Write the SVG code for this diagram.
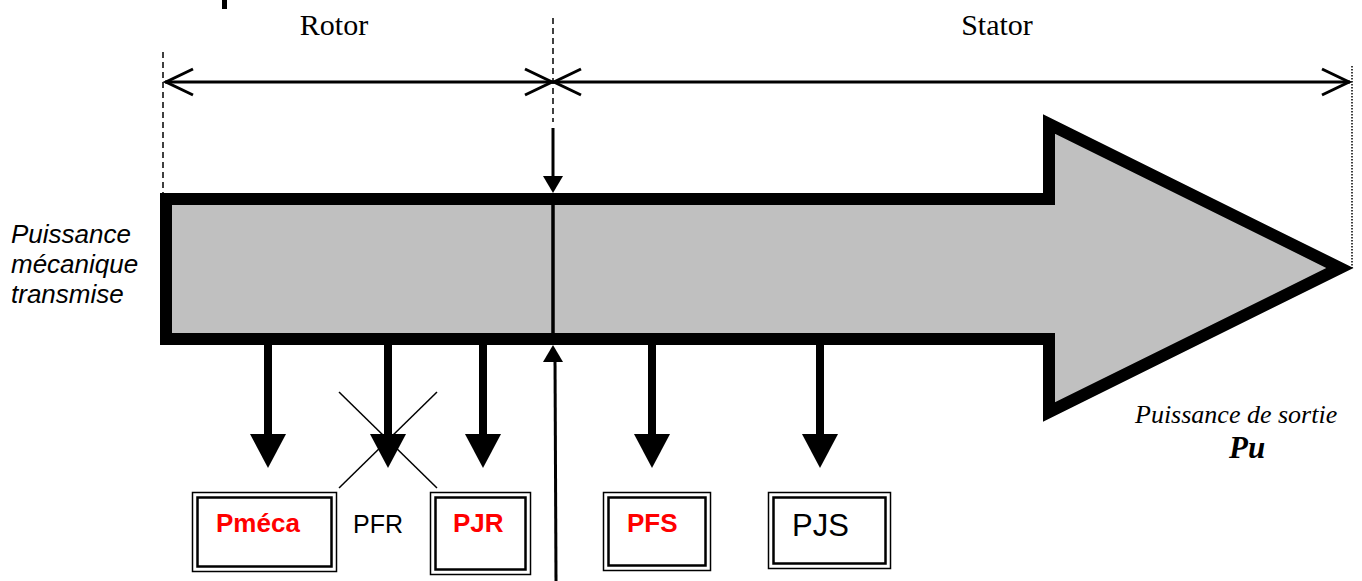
<svg xmlns="http://www.w3.org/2000/svg" width="1362" height="581" viewBox="0 0 1362 581">
<style>
.serif{font-family:"Liberation Serif","Times New Roman",serif;}
.sans{font-family:"Liberation Sans",Arial,sans-serif;}
.box-o{fill:#fff;stroke:#000;stroke-width:1.5;}
.box-i{fill:none;stroke:#000;stroke-width:2.5;}
.loss{stroke:#000;stroke-width:8;fill:none;}
.dim{stroke:#000;stroke-width:3;fill:none;}
.red{fill:#ff0000;font-weight:bold;}
</style>
<defs>
<polygon id="lossHead" points="-18,0 18,0 0,34" fill="#000"/>
</defs>
<rect x="222" y="0" width="5" height="9" fill="#000"/>
<g id="guides">
<line x1="163" y1="52" x2="163" y2="193" stroke="#000" stroke-width="1.5" stroke-dasharray="6,4"/>
<line x1="553" y1="18" x2="553" y2="122" stroke="#000" stroke-width="1.5" stroke-dasharray="6,4"/>
<line x1="1352" y1="66" x2="1352" y2="268" stroke="#000" stroke-width="1.5" stroke-dasharray="1.5,1.5"/>
</g>
<g id="dimension">
<line class="dim" x1="165" y1="82" x2="1350" y2="82"/>
<polyline class="dim" points="193,69 166,82 193,95"/>
<polyline class="dim" points="525,69 552,82 525,95"/>
<polyline class="dim" points="581,69 554,82 581,95"/>
<polyline class="dim" points="1322,69 1349,82 1322,95"/>
<text class="serif" x="334" y="35" font-size="30" text-anchor="middle">Rotor</text>
<text class="serif" x="997" y="35" font-size="30" text-anchor="middle">Stator</text>
</g>
<g id="power-arrow">
<polygon points="166,199 1049,199 1049,124 1340,268 1049,412 1049,339 166,339" fill="#c0c0c0" stroke="#000" stroke-width="12" stroke-linejoin="miter" stroke-miterlimit="10"/>
</g>
<g id="connectors">
<line x1="553" y1="128" x2="553" y2="180" stroke="#000" stroke-width="3"/>
<polygon points="543,176 563,176 553,193" fill="#000"/>
<line x1="553" y1="199" x2="553" y2="339" stroke="#000" stroke-width="3.5"/>
<polygon points="543,362 563,362 553,345" fill="#000"/>
<line x1="555" y1="358" x2="556" y2="581" stroke="#000" stroke-width="3"/>
<line class="loss" x1="268" y1="345" x2="268" y2="436"/>
<use href="#lossHead" x="268" y="434"/>
<line class="loss" x1="388" y1="345" x2="388" y2="436"/>
<use href="#lossHead" x="388" y="434"/>
<line class="loss" x1="483" y1="345" x2="483" y2="436"/>
<use href="#lossHead" x="483" y="434"/>
<line class="loss" x1="652" y1="345" x2="652" y2="436"/>
<use href="#lossHead" x="652" y="434"/>
<line class="loss" x1="820" y1="345" x2="820" y2="436"/>
<use href="#lossHead" x="820" y="434"/>
<line x1="339" y1="392" x2="437" y2="488" stroke="#000" stroke-width="1.5"/>
<line x1="437" y1="392" x2="339" y2="488" stroke="#000" stroke-width="1.5"/>
</g>
<g id="label-input">
<text class="sans" font-size="26" font-style="italic" x="11" y="243">Puissance</text>
<text class="sans" font-size="26" font-style="italic" x="11" y="273">mécanique</text>
<text class="sans" font-size="26" font-style="italic" x="11" y="303">transmise</text>
</g>
<g id="label-output">
<text class="serif" font-size="26" font-style="italic" x="1135" y="423">Puissance de sortie</text>
<text class="serif" font-size="31" font-style="italic" font-weight="bold" x="1229" y="458">Pu</text>
</g>
<g id="node-pmeca">
<rect class="box-o" x="192.5" y="492.5" width="144" height="79"/>
<rect class="box-i" x="197.5" y="497.5" width="134" height="69"/>
<text class="sans red" font-size="26" x="216" y="532">Pméca</text>
</g>
<g id="node-pfr">
<text class="sans" font-size="25" x="353" y="533">PFR</text>
</g>
<g id="node-pjr">
<rect class="box-o" x="430.5" y="492.5" width="100" height="82"/>
<rect class="box-i" x="435.5" y="497.5" width="90" height="72"/>
<text class="sans red" font-size="26" x="453" y="532">PJR</text>
</g>
<g id="node-pfs">
<rect class="box-o" x="603.5" y="492.5" width="107" height="78"/>
<rect class="box-i" x="608.5" y="497.5" width="97" height="68"/>
<text class="sans red" font-size="26" x="627" y="532">PFS</text>
</g>
<g id="node-pjs">
<rect class="box-o" x="768.5" y="492.5" width="122" height="76"/>
<rect class="box-i" x="773.5" y="497.5" width="112" height="66"/>
<text class="sans" font-size="31" x="792" y="536">PJS</text>
</g>
</svg>
